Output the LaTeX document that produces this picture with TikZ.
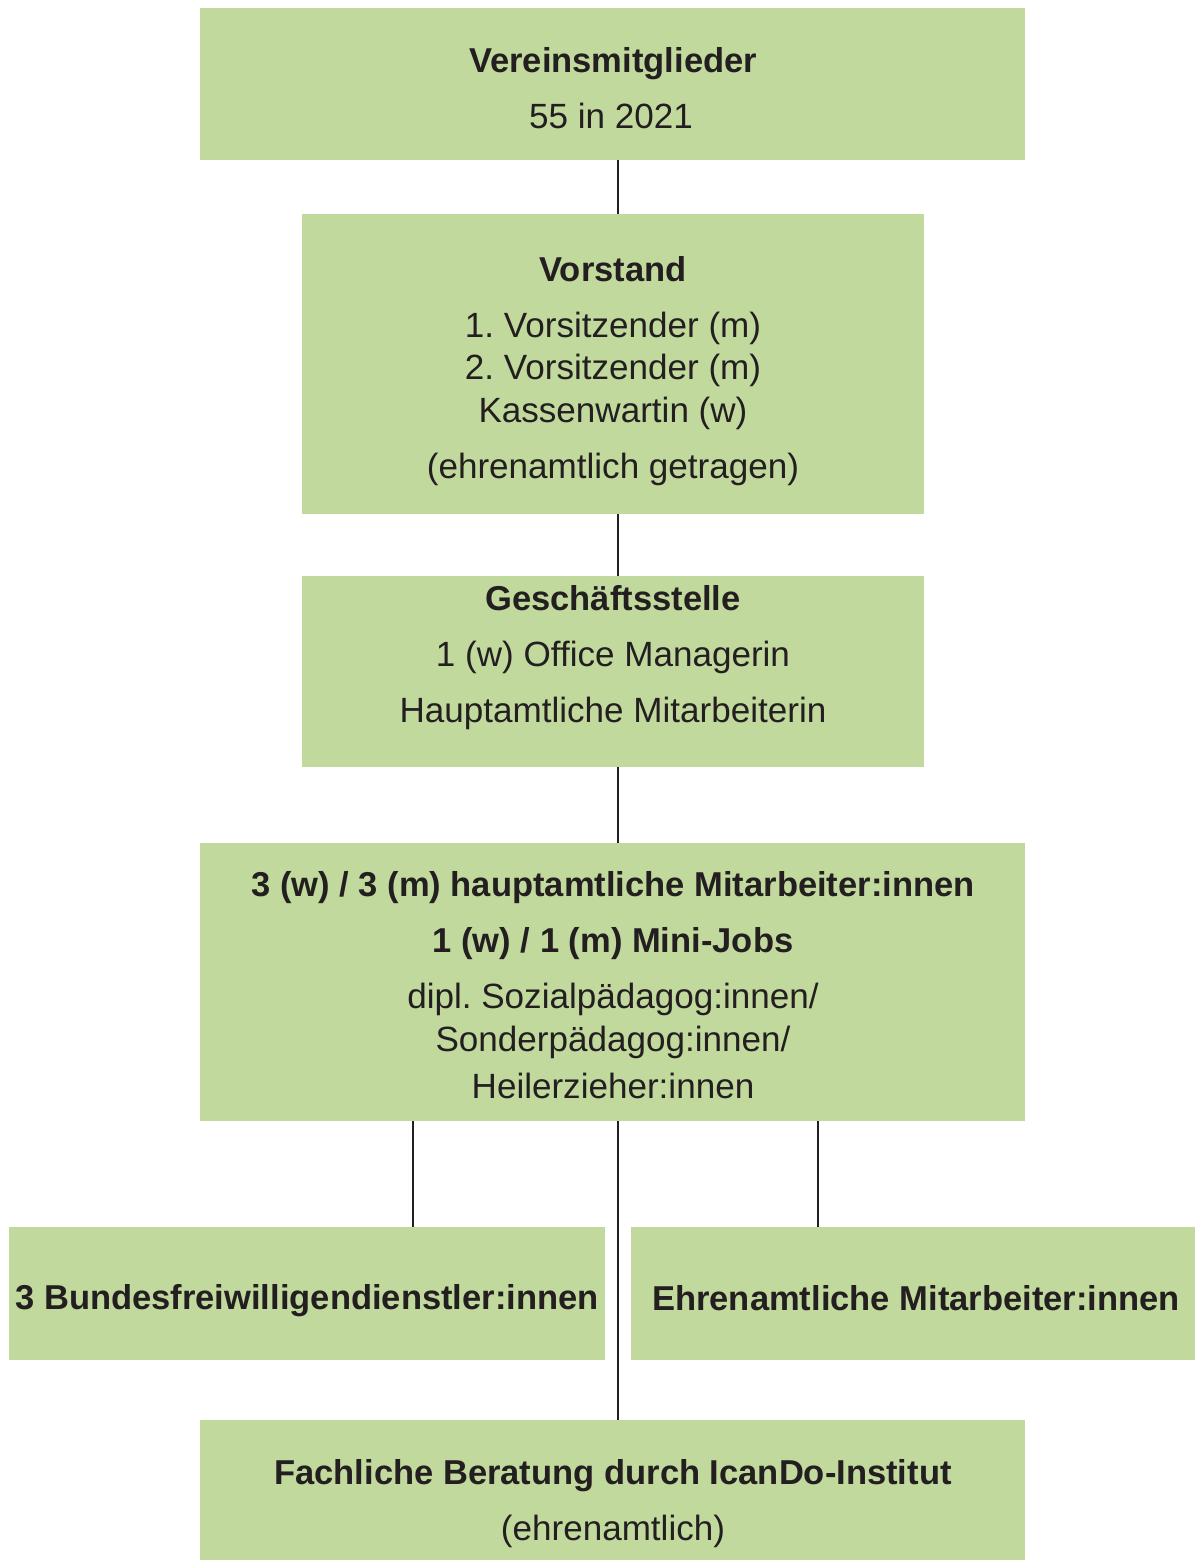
\documentclass[tikz,border=0pt]{standalone}
\usepackage{fontspec}
\setmainfont{Liberation Sans}
\definecolor{boxgreen}{HTML}{C2D99D}
\definecolor{ink}{HTML}{231F20}
\begin{document}
\frenchspacing
\begin{tikzpicture}[x=0.75pt,y=-0.75pt,
  box/.style={fill=boxgreen,draw=none,inner sep=0pt},
  txt/.style={anchor=base,inner sep=0pt,text=ink,font=\fontsize{26.3pt}{30pt}\selectfont},
  btxt/.style={txt,font=\fontsize{25.9pt}{30pt}\selectfont\bfseries},
  conn/.style={draw=ink,line width=1.6pt}]
\useasboundingbox (0,0) rectangle (1195,1560);
% boxes
\node[box,minimum width=825*0.75pt,minimum height=152*0.75pt] (b1) at (612.5,84) {};
\node[box,minimum width=622*0.75pt,minimum height=300*0.75pt] (b2) at (613,364) {};
\node[box,minimum width=622*0.75pt,minimum height=191*0.75pt] (b3) at (613,671.5) {};
\node[box,minimum width=825*0.75pt,minimum height=278*0.75pt] (b4) at (612.5,982) {};
\node[box,minimum width=596*0.75pt,minimum height=133*0.75pt] (b5) at (307,1293.5) {};
\node[box,minimum width=564*0.75pt,minimum height=133*0.75pt] (b6) at (913,1293.5) {};
\node[box,minimum width=825*0.75pt,minimum height=140*0.75pt] (b7) at (612.5,1490) {};
% connector points
\coordinate (c1t) at (618,160); \coordinate (c1b) at (618,214);
\coordinate (c2t) at (618,514); \coordinate (c2b) at (618,576);
\coordinate (c3t) at (618,767); \coordinate (c3b) at (618,843);
\coordinate (c4t) at (618,1121); \coordinate (c4b) at (618,1420);
\coordinate (c5t) at (413,1121); \coordinate (c5b) at (413,1227);
\coordinate (c6t) at (818,1121); \coordinate (c6b) at (818,1227);
\draw[conn] (c1t) -- (c1b);
\draw[conn] (c2t) -- (c2b);
\draw[conn] (c3t) -- (c3b);
\draw[conn] (c4t) -- (c4b);
\draw[conn] (c5t) -- (c5b);
\draw[conn] (c6t) -- (c6b);
% texts
\node[btxt] (t1a) at (613,72) {Vereinsmitglieder};
\node[txt] (t1b) at (611,128) {55 in 2021};
\node[btxt] (t2a) at (613,281) {Vorstand};
\node[txt] (t2b) at (613,337) {1. Vorsitzender (m)};
\node[txt] (t2c) at (613,379) {2. Vorsitzender (m)};
\node[txt] (t2d) at (613,422) {Kassenwartin (w)};
\node[txt] (t2e) at (613,478) {(ehrenamtlich getragen)};
\node[btxt] (t3a) at (613,610) {Geschäftsstelle};
\node[txt] (t3b) at (613,666) {1 (w) Office Managerin};
\node[txt] (t3c) at (613,722) {Hauptamtliche Mitarbeiterin};
\node[btxt] (t4a) at (613,896) {3 (w) / 3 (m) hauptamtliche Mitarbeiter:innen};
\node[btxt] (t4b) at (613,952) {1 (w) / 1 (m) Mini-Jobs};
\node[txt] (t4c) at (613,1008) {dipl. Sozialpädagog:innen/};
\node[txt] (t4d) at (613,1051) {Sonderpädagog:innen/};
\node[txt] (t4e) at (613,1098) {Heilerzieher:innen};
\node[btxt] (t5) at (307,1309) {3 Bundesfreiwilligendienstler:innen};
\node[btxt] (t6) at (916,1310) {Ehrenamtliche Mitarbeiter:innen};
\node[btxt] (t7a) at (613,1484) {Fachliche Beratung durch IcanDo-Institut};
\node[txt] (t7b) at (613,1540) {(ehrenamtlich)};
\end{tikzpicture}
\end{document}
